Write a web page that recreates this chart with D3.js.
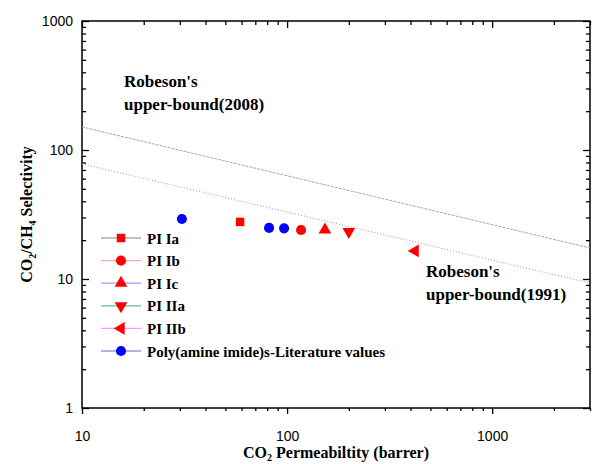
<!DOCTYPE html>
<html>
<head>
<meta charset="utf-8">
<script src="https://cdn.jsdelivr.net/npm/d3@7"></script>
<style>
  body { margin: 0; background: #fff; }
  svg { display: block; }
  .serif { font-family: "Liberation Serif", "Times New Roman", serif; font-weight: bold; }
  .tick text { font-family: "Liberation Sans", Arial, sans-serif; font-size: 14px; fill: #000; }
</style>
</head>
<body>
<div id="chart"></div>
<script>
// Chart data
const seriesNames = ["PI Ia", "PI Ib", "PI Ic", "PI IIa", "PI IIb", "Poly(amine imide)s-Literature values"];
const seriesShapes = ["square", "circle", "up", "down", "left", "circle"];
const markerColors = ["#ff0000", "#ff0000", "#ff0000", "#ff0000", "#ff0000", "#0000ff"];
const legendLineColors = ["#808080", "#ffaaaa", "#9999ff", "#66bbaa", "#ff99ff", "#6666cc"];
const permeability = [[59], [117], [153], [200], [421], [30.7, 81.7, 96.7]];
const selectivity = [[27.7], [24], [24], [23.3], [16.5], [29.2, 24.9, 24.7]];

// Robeson upper-bound lines (end points)
const bound2008X = [10, 3000];
const bound2008Y = [151, 17.4];
const bound1991X = [10, 3000];
const bound1991Y = [78, 9.3];

const xMajorTicks = [10, 100, 1000];
const yMajorTicks = [1, 10, 100, 1000];

const width = 592;
const height = 464;
const margin = { left: 82, right: 2, top: 21, bottom: 56 };

const x = d3.scaleLog().domain([10, 3000]).range([margin.left, width - margin.right]);
const y = d3.scaleLog().domain([1, 1000]).range([height - margin.bottom, margin.top]);

const xMinor = [];
[10, 100, 1000].forEach(d => { for (let k = 2; k <= 9; k++) if (d * k <= 3000) xMinor.push(d * k); });
const yMinor = [];
[1, 10, 100].forEach(d => { for (let k = 2; k <= 9; k++) yMinor.push(d * k); });

const svg = d3.select("#chart")
  .append("svg")
  .attr("width", width)
  .attr("height", height);

const x0 = x.range()[0], x1 = x.range()[1];
const y0 = y.range()[0], y1 = y.range()[1];

// bottom axis (ticks outside)
svg.append("g")
  .attr("transform", `translate(0,${y0})`)
  .call(d3.axisBottom(x).tickValues(xMajorTicks).tickFormat(d3.format("d")).tickSizeInner(6).tickSizeOuter(0).tickPadding(17));
svg.append("g")
  .attr("transform", `translate(0,${y0})`)
  .call(d3.axisBottom(x).tickValues(xMinor).tickFormat("").tickSizeInner(3).tickSizeOuter(0));

// top axis (ticks inside)
svg.append("g")
  .attr("transform", `translate(0,${y1})`)
  .call(d3.axisTop(x).tickValues(xMajorTicks).tickFormat("").tickSizeInner(-7).tickSizeOuter(0));
svg.append("g")
  .attr("transform", `translate(0,${y1})`)
  .call(d3.axisTop(x).tickValues(xMinor).tickFormat("").tickSizeInner(-4).tickSizeOuter(0));

// left axis (ticks inside)
svg.append("g")
  .attr("transform", `translate(${x0},0)`)
  .call(d3.axisLeft(y).tickValues(yMajorTicks).tickFormat(d3.format("d")).tickSizeInner(-7).tickSizeOuter(0).tickPadding(9));
svg.append("g")
  .attr("transform", `translate(${x0},0)`)
  .call(d3.axisLeft(y).tickValues(yMinor).tickFormat("").tickSizeInner(-4).tickSizeOuter(0));

// right axis (ticks inside)
svg.append("g")
  .attr("transform", `translate(${x1},0)`)
  .call(d3.axisRight(y).tickValues(yMajorTicks).tickFormat("").tickSizeInner(-7).tickSizeOuter(0));
svg.append("g")
  .attr("transform", `translate(${x1},0)`)
  .call(d3.axisRight(y).tickValues(yMinor).tickFormat("").tickSizeInner(-4).tickSizeOuter(0));

svg.selectAll(".domain").remove();
svg.selectAll(".tick line").attr("stroke", "#000").attr("stroke-width", 1.3);

// frame
svg.append("rect")
  .attr("x", x0).attr("y", y1)
  .attr("width", x1 - x0).attr("height", y0 - y1)
  .attr("fill", "none").attr("stroke", "#000").attr("stroke-width", 1.5);

// upper-bound lines
const line = d3.line().x(d => x(d[0])).y(d => y(d[1]));
svg.append("path")
  .attr("d", line(d3.zip(bound2008X, bound2008Y)))
  .attr("fill", "none").attr("stroke", "#aaa").attr("stroke-width", 1)
  .attr("stroke-dasharray", "3,1");
svg.append("path")
  .attr("d", line(d3.zip(bound1991X, bound1991Y)))
  .attr("fill", "none").attr("stroke", "#999").attr("stroke-width", 1)
  .attr("stroke-dasharray", "1,2");

function symbolPath(shape) {
  if (shape === "square") return d3.symbol().type(d3.symbolSquare).size(72)();
  if (shape === "circle") return d3.symbol().type(d3.symbolCircle).size(80)();
  return d3.symbol().type(d3.symbolTriangle).size(70)();
}
function symbolRotate(shape) {
  if (shape === "down") return 180;
  if (shape === "left") return -90;
  return 0;
}

// data points
seriesNames.forEach((name, i) => {
  const pts = d3.zip(permeability[i], selectivity[i]);
  svg.append("g")
    .selectAll("path")
    .data(pts)
    .enter()
    .append("path")
    .attr("d", symbolPath(seriesShapes[i]))
    .attr("transform", d => `translate(${x(d[0])},${y(d[1])}) rotate(${symbolRotate(seriesShapes[i])})`)
    .attr("fill", markerColors[i]);
});

// legend
const legend = svg.append("g").attr("transform", "translate(101,238)");
seriesNames.forEach((name, i) => {
  const g = legend.append("g").attr("transform", `translate(0,${i * 22.6})`);
  g.append("line")
    .attr("x1", 0).attr("x2", 40).attr("y1", 0).attr("y2", 0)
    .attr("stroke", legendLineColors[i]).attr("stroke-width", 1.2);
  g.append("path")
    .attr("d", symbolPath(seriesShapes[i]))
    .attr("transform", `translate(20,0) rotate(${symbolRotate(seriesShapes[i])})`)
    .attr("fill", markerColors[i]);
  g.append("text")
    .attr("class", "serif")
    .attr("x", 46).attr("y", 5.5)
    .attr("font-size", "15px")
    .text(name);
});

// annotations
function twoLines(xp, yp, a, b) {
  const t = svg.append("text").attr("class", "serif").attr("font-size", "17px");
  t.append("tspan").attr("x", xp).attr("y", yp).text(a);
  t.append("tspan").attr("x", xp).attr("y", yp + 23).text(b);
}
twoLines(124, 87, "Robeson's", "upper-bound(2008)");
twoLines(426, 277, "Robeson's", "upper-bound(1991)");

// axis titles
const yt = svg.append("text")
  .attr("class", "serif")
  .attr("font-size", "16px")
  .attr("text-anchor", "middle")
  .attr("transform", `translate(32,${(y0 + y1) / 2}) rotate(-90)`);
yt.append("tspan").text("CO");
yt.append("tspan").attr("font-size", "10px").attr("dy", 4).text("2");
yt.append("tspan").attr("dy", -4).text("/CH");
yt.append("tspan").attr("font-size", "10px").attr("dy", 4).text("4");
yt.append("tspan").attr("dy", -4).text(" Selectivity");

const xt = svg.append("text")
  .attr("class", "serif")
  .attr("font-size", "16px")
  .attr("text-anchor", "middle")
  .attr("x", (x0 + x1) / 2).attr("y", 458);
xt.append("tspan").text("CO");
xt.append("tspan").attr("font-size", "10px").attr("dy", 3).text("2");
xt.append("tspan").attr("dy", -3).text(" Permeabiltity (barrer)");
</script>
</body>
</html>
